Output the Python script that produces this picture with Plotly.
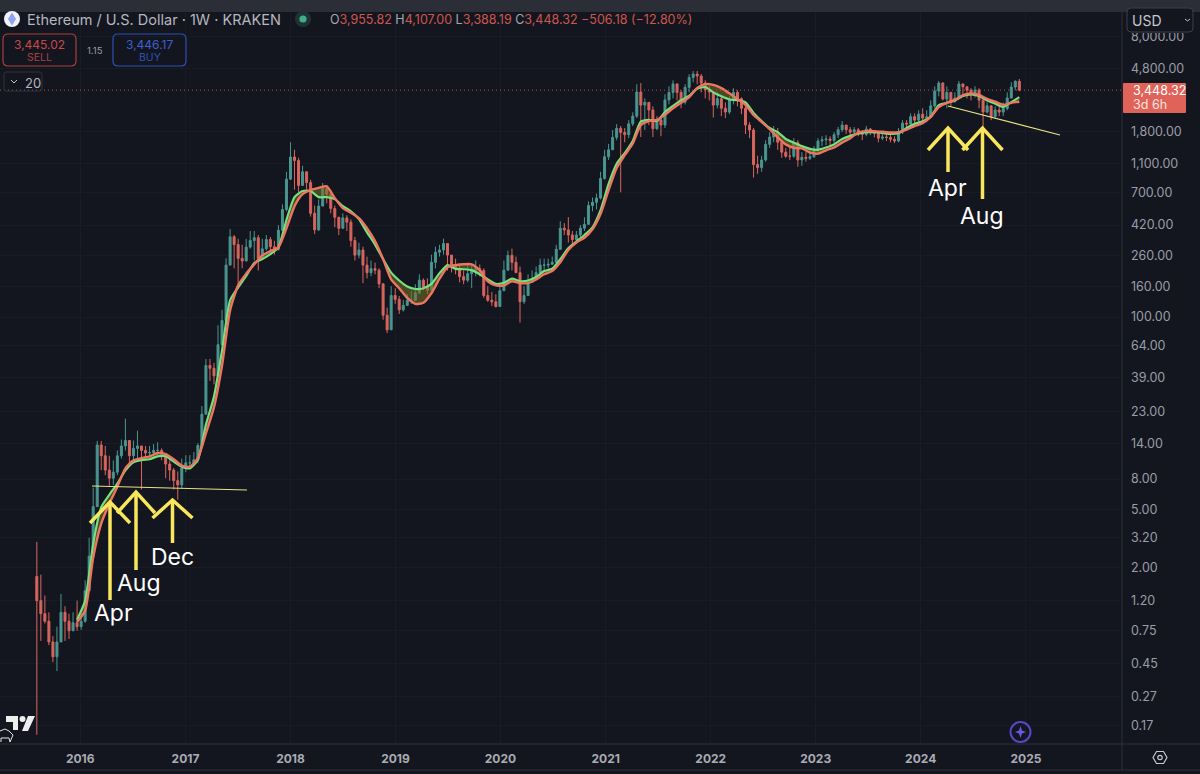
import pandas as pd
import plotly.graph_objects as go

BG = "#14161f"
UP = "#4a9690"
DOWN = "#d8665e"
GREY = "#9a9da6"
YELLOW = "#f8e75c"

start_date = "2015-08-03"
first_open = 1.75

closes = [
    1.2, .98, .87, .63, .5, .63, 1.0, .87, .75, .85,
    .8, .87, 1.4, 2.4, 5.2, 13.6, 11.5, 9.2, 8.1, 8.9,
    11.5, 13.4, 14.6, 11.5, 12.9, 13.4, 12.5, 12, 12.1, 12.5,
    12.5, 11.6, 10.1, 9.2, 7.8, 7.3, 9.5, 10.3, 10.3, 10.8,
    13.5, 22, 47, 45, 40, 65, 95, 225, 350, 310,
    250, 240, 298, 330, 345, 250, 290, 335, 300, 288,
    388, 535, 860, 1215, 1150, 780, 965, 815, 505, 390,
    565, 745, 680, 545, 475, 400, 470, 440, 330, 263,
    285, 225, 200, 213, 208, 168, 103, 82, 140, 132,
    112, 120, 130, 130, 146, 178, 160, 152, 235, 275,
    285, 315, 263, 225, 213, 188, 178, 197, 208, 213,
    207, 140, 130, 127, 118, 151, 208, 262, 235, 200,
    127, 140, 172, 183, 200, 225, 225, 228, 235, 288,
    400, 390, 360, 335, 360, 400, 425, 570, 600, 640,
    870, 1220, 1360, 1650, 1900, 1780, 1720, 2040, 2300, 3350,
    2730, 2850, 2530, 1890, 2170, 2000, 2960, 3330, 3800, 3330,
    2860, 3600, 4200, 4430, 4300, 3850, 3460, 3350, 2730, 3020,
    2600, 2450, 2950, 3330, 3020, 2600, 2000, 1850, 1080, 1030,
    1160, 1480, 1660, 1780, 1530, 1310, 1230, 1230, 1520, 1160,
    1210, 1190, 1220, 1360, 1560, 1590, 1610, 1570, 1720, 1860,
    2000, 1860, 1790, 1860, 1790, 1730, 1880, 1800, 1760, 1630,
    1660, 1650, 1600, 1560, 1790, 2060, 2030, 2280, 2160, 2370,
    2230, 2270, 2700, 3400, 3850, 3000, 3330, 2900, 3050, 3800,
    3630, 3450, 3270, 3450, 2950, 2450, 2700, 2280, 2530, 2450,
    2590, 3050, 3620, 3955.82, 3448.32,
]
highs = [
    3.0, 1.8, 1.3, 1.0, .69, .8, 1.33, 1.1, .98, 1.0,
    1.2, .98, 1.65, 3.2, 7, 14.5, 14.5, 13.4, 11.5, 10.7,
    12.5, 14.8, 20.5, 14.6, 14.6, 17, 13.4, 13.4, 13.4, 13.8,
    14.2, 12.9, 12, 10.7, 9.5, 9, 11, 11.6, 11.6, 12.2,
    14, 25, 52, 52, 49, 88, 112, 250, 395, 360,
    339, 309, 339, 383, 383, 360, 339, 360, 349, 329,
    420, 580, 965, 1530, 1360, 1200, 1060, 965, 853, 570,
    627, 810, 777, 730, 570, 475, 505, 490, 460, 349,
    319, 300, 257, 242, 234, 214, 167, 116, 162, 157,
    139, 131, 143, 150, 167, 195, 183, 183, 265, 300,
    309, 340, 315, 262, 249, 224, 207, 227, 227, 242,
    227, 214, 162, 148, 143, 172, 242, 282, 291, 257,
    220, 162, 195, 207, 220, 249, 249, 249, 257, 309,
    446, 433, 476, 383, 383, 420, 475, 608, 646, 687,
    965, 1360, 1490, 1850, 2030, 1970, 1910, 2160, 2440, 3780,
    3850, 3030, 2760, 2680, 2300, 2230, 3230, 3660, 4020, 3780,
    3440, 3780, 4430, 4650, 4650, 4430, 4020, 3660, 3330, 3330,
    3130, 2850, 3130, 3550, 3440, 3080, 2680, 2090, 1910, 1240,
    1240, 1580, 1790, 1970, 1910, 1580, 1400, 1400, 1630, 1580,
    1310, 1310, 1360, 1440, 1630, 1680, 1710, 1680, 1790, 1940,
    2130, 1970, 1940, 1940, 1910, 1850, 1970, 1910, 1820, 1790,
    1740, 1760, 1710, 1680, 1910, 2160, 2160, 2400, 2400, 2520,
    2600, 2520, 2940, 3660, 3980, 3900, 3660, 3230, 3330, 3980,
    3780, 3660, 3550, 3660, 3550, 3030, 2850, 2680, 2680, 2720,
    2850, 3330, 3900, 4020, 4107,
]
lows = [
    .148, .64, .84, .6, .46, .4, .65, .64, .66, .75,
    .75, .76, .85, 1.4, 2.4, 5.2, 9.2, 8.5, 7.2, 7.3,
    8.5, 11, 12.5, 10.3, 10.3, 10.7, 6.8, 10.7, 11.4, 11.6,
    11.6, 10.7, 8.1, 7.8, 6.8, 5.8, 6.9, 8.9, 9.5, 10,
    10.3, 13.5, 22, 37, 35, 40, 65, 95, 225, 214,
    155, 214, 242, 291, 242, 207, 249, 282, 273, 265,
    282, 390, 520, 850, 730, 705, 780, 730, 480, 365,
    383, 570, 590, 505, 407, 360, 395, 383, 300, 242,
    250, 170, 183, 189, 195, 157, 96, 78, 82, 123,
    105, 109, 119, 123, 135, 143, 152, 143, 152, 214,
    257, 265, 207, 201, 195, 172, 167, 172, 157, 189,
    189, 135, 127, 119, 116, 119, 150, 207, 207, 201,
    92, 123, 143, 172, 178, 201, 207, 214, 227, 234,
    291, 360, 320, 309, 320, 349, 383, 433, 521, 537,
    627, 853, 1160, 1360, 1580, 700, 1530, 1630, 1970, 2230,
    1660, 1850, 2000, 1660, 1850, 1680, 1910, 2760, 3030, 2940,
    2600, 2760, 3330, 3900, 3780, 3330, 3030, 2940, 2250, 2600,
    2300, 2230, 2370, 2760, 2680, 2370, 1740, 1630, 880, 935,
    965, 1130, 1400, 1530, 1360, 1200, 1200, 1160, 1200, 1045,
    1060, 1130, 1160, 1200, 1310, 1440, 1460, 1440, 1490, 1630,
    1790, 1740, 1710, 1740, 1680, 1580, 1680, 1710, 1650, 1530,
    1580, 1560, 1530, 1510, 1530, 1740, 1850, 1910, 2030, 2090,
    2060, 2090, 2230, 2600, 3130, 2940, 2600, 2680, 2830, 3030,
    3230, 3030, 2940, 3080, 2600, 1900, 2400, 2160, 2230, 2300,
    2300, 2520, 3030, 3440, 3388.19,
]

# moving averages, one value every second candle from candle 10
red_ma = [
    .86, 1.03, 2.35, 4.0, 5.45, 7.1, 9.45, 10.7, 11.1, 11.4,
    12, 11.8, 10.9, 9.85, 9.7, 11.1, 16.3, 24.5, 47, 111,
    164, 197, 228, 262, 280, 297, 400, 565, 680, 725,
    750, 770, 640, 548, 510, 468, 400, 327, 247, 180,
    157, 135, 123, 125, 145, 182, 218, 225, 228, 228,
    208, 175, 164, 164, 175, 170, 170, 180, 195, 205,
    235, 285, 320, 345, 394, 500, 725, 1025, 1250, 1500,
    2000, 2130, 2170, 2350, 2600, 2830, 3090, 3570, 3800, 3740,
    3560, 3280, 3000, 2740, 2340, 2100, 1880, 1650, 1480, 1400,
    1390, 1300, 1280, 1350, 1410, 1520, 1630, 1780, 1820, 1820,
    1800, 1780, 1790, 1860, 1970, 2060, 2270, 2650, 2830, 2960,
    3190, 3280, 3200, 3010, 2880, 2740, 2830, 2880,
]
green_ma = [
    .89, 1.2, 2.92, 5.15, 6.25, 7.45, 9.15, 10.4, 10.75, 10.9,
    11.4, 11.4, 10.5, 9.7, 9.45, 10.8, 18.7, 29, 59.5, 130,
    159, 190, 232, 247, 267, 297, 455, 650, 715, 715,
    650, 650, 630, 565, 520, 461, 375, 310, 247, 200,
    177, 161, 155, 157, 168, 198, 225, 212, 211, 208,
    195, 180, 168, 171, 182, 175, 177, 187, 205, 213,
    247, 293, 325, 360, 405, 530, 800, 1095, 1290, 1560,
    2110, 2170, 2130, 2450, 2700, 2950, 3150, 3520, 3620, 3330,
    3130, 2980, 2950, 2850, 2420, 2130, 1910, 1790, 1610, 1520,
    1440, 1380, 1360, 1410, 1480, 1610, 1690, 1750, 1790, 1790,
    1770, 1740, 1760, 1910, 2040, 2120, 2280, 2730, 2830, 2930,
    3150, 3230, 3150, 2930, 2790, 2650, 2860, 3090,
]

price_ticks = [8000, 4800, 1800, 1100, 700, 420, 260, 160, 100, 64, 39, 23, 14,
               8, 5, 3.2, 2, 1.2, .75, .45, .27, .17]
year_ticks = list(range(2016, 2026))

opens = [first_open] + closes[:-1]
dates = pd.date_range(start_date, periods=len(closes), freq="14D")
ma_dates = dates[10::2]


# figure pixels to paper coordinates of the plot area
def px(x):
    return x / 1122


def py(y):
    return (744 - y) / 732


def path_of(points, close=False):
    s = "M" + " L".join(f"{px(x):.5f},{py(y):.5f}" for x, y in points)
    return s + (" Z" if close else "")


def line(points, color, width, fill=None, close=False):
    return dict(type="path", xref="paper", yref="paper", path=path_of(points, close),
                line=dict(color=color, width=width), fillcolor=fill, layer="above")


def box(x0, y0, x1, y1, color, width=1, fill=None, r=3):
    p = (f"M{px(x0 + r)},{py(y0)} L{px(x1 - r)},{py(y0)} Q{px(x1)},{py(y0)} {px(x1)},{py(y0 + r)} "
         f"L{px(x1)},{py(y1 - r)} Q{px(x1)},{py(y1)} {px(x1 - r)},{py(y1)} "
         f"L{px(x0 + r)},{py(y1)} Q{px(x0)},{py(y1)} {px(x0)},{py(y1 - r)} "
         f"L{px(x0)},{py(y0 + r)} Q{px(x0)},{py(y0)} {px(x0 + r)},{py(y0)} Z")
    return dict(type="path", xref="paper", yref="paper", path=p, layer="above",
                line=dict(color=color, width=width), fillcolor=fill)


def circle(cx, cy, r, color, width=0, fill=None):
    return dict(type="circle", xref="paper", yref="paper", layer="above",
                x0=px(cx - r), x1=px(cx + r), y0=py(cy + r), y1=py(cy - r),
                line=dict(color=color, width=width), fillcolor=fill)


def label(x, y, text, size=12, color=GREY, anchor="left", family="Inter"):
    return dict(xref="paper", yref="paper", x=px(x), y=py(y), text=text, showarrow=False,
                xanchor=anchor, yanchor="middle", font=dict(family=family, size=size, color=color))


def arrow(cx, bottom, top, dx, head):
    return [line([(cx, bottom), (cx, top)], YELLOW, 3.5),
            line([(cx - dx, top + head), (cx, top), (cx + dx, top + head)], YELLOW, 3.5)]


fig = go.Figure()
fig.add_trace(go.Candlestick(
    x=dates, open=opens, high=highs, low=lows, close=closes,
    increasing=dict(line=dict(color=UP, width=1), fillcolor=UP),
    decreasing=dict(line=dict(color=DOWN, width=1), fillcolor=DOWN),
    whiskerwidth=0, hoverinfo="skip", showlegend=False,
))
fig.add_trace(go.Scatter(x=ma_dates, y=green_ma, mode="lines", showlegend=False, hoverinfo="skip",
                         line=dict(color="#74e27e", width=2.2, shape="spline", smoothing=0.6)))
fig.add_trace(go.Scatter(x=ma_dates, y=red_ma, mode="lines", showlegend=False, hoverinfo="skip",
                         fill="tonexty", fillcolor="rgba(120,115,40,0.55)",
                         line=dict(color="#ee7660", width=2.4, shape="spline", smoothing=0.6)))

shapes = [
    # frame
    dict(type="rect", xref="paper", yref="paper", x0=px(0), x1=px(1200), y0=py(12), y1=py(0),
         fillcolor="#2b2d37", line_width=0, layer="above"),
    dict(type="rect", xref="paper", yref="paper", x0=px(1123), x1=px(1200), y0=py(33), y1=py(12),
         fillcolor=BG, line_width=0, layer="above"),
    line([(1122, 12), (1122, 770)], "#2f313b", 1),
    line([(0, 744), (1200, 744)], "#2f313b", 1),
    line([(0, 770), (1200, 770)], "#2f313b", 1),
    # last price line
    dict(type="line", xref="paper", yref="y", x0=0, x1=1, y0=closes[-1], y1=closes[-1],
         line=dict(color="#b5524d", width=1, dash="1px,3px"), layer="above"),
    box(1123, 83, 1186, 113, "#e0635a", 0, "#e0635a", 1),
    # trend lines
    line([(92, 486), (247, 490)], "#e9e288", 1.2),
    line([(948, 106), (1060, 135)], "#e9e288", 1.2),
    # header
    circle(12, 19, 8, "#ffffff", 0, "#f2f3f7"),
    line([(12, 12.5), (16, 19), (12, 25.5), (8, 19)], "#8fa4ee", 0, "#8fa4ee", True),
    circle(303, 19, 8, "#1f3236", 0, "#1f3236"),
    circle(303, 19, 3.6, "#41ae8a", 0, "#41ae8a"),
    box(3, 34, 76, 66, "#a8403f", 1.2, None, 5),
    box(113, 34, 186, 66, "#2f4fb8", 1.2, None, 5),
    box(4, 72, 42, 91, "#30323c", 1, None, 2),
    line([(11, 80), (14, 83), (17, 80)], "#c5c7cf", 1),
    # currency selector
    box(1127, 8, 1193, 32, "#3b3e49", 1, BG, 4),
    line([(1185, 19), (1187.5, 21), (1190, 19)], "#c5c7cf", 1),
    # tradingview logo
    line([(6, 716), (18, 716), (18, 730), (13, 730), (13, 722), (6, 722)], "#eeeeee", 0, "#eeeeee", True),
    circle(22.5, 719, 3, "#eeeeee", 0, "#eeeeee"),
    line([(28, 716), (35, 716), (28, 731), (22, 731)], "#eeeeee", 0, "#eeeeee", True),
    line([(0, 731), (5, 729), (9, 731), (13, 735), (10, 742), (9, 738), (1, 738), (1, 742)], "#e6e6e6", 1),
    # bottom right icons
    circle(1020.5, 732, 10, "#5b46c8", 2),
    line([(1020.5, 726), (1022, 730.5), (1026, 732), (1022, 733.5), (1020.5, 738), (1019, 733.5),
          (1015, 732), (1019, 730.5)], "#6b57e6", 0, "#6b57e6", True),
    line([(1153, 757.5), (1156.5, 751.5), (1163.5, 751.5), (1167, 757.5), (1163.5, 763.5), (1156.5, 763.5)],
         "#c5c7cf", 1.2, None, True),
    circle(1160, 757.5, 2.2, "#c5c7cf", 1.2),
]
# yellow arrows drawn on the chart
shapes += arrow(110, 600, 502, 20, 21)
shapes += arrow(136, 570, 492, 19, 21)
shapes += arrow(172.5, 543, 500, 20, 18)
shapes += arrow(948, 172, 128, 20, 22)
shapes += arrow(982.5, 199, 128, 20, 22)

RED = "#cf5650"
ohlc = (f"O<span style='color:{RED}'>3,955.82</span> H<span style='color:{RED}'>4,107.00</span> "
        f"L<span style='color:{RED}'>3,388.19</span> C<span style='color:{RED}'>3,448.32</span> "
        f"<span style='color:{RED}'>−506.18 (−12.80%)</span>")
annotations = [
    label(25, 19.5, "Ethereum / U.S. Dollar · 1W · KRAKEN", 14.5, "#b4b7bf"),
    label(328, 19.5, ohlc, 12.5, "#a5a8b0"),
    label(39.5, 45, "3,445.02", 12, "#c9474a", "center"),
    label(39.5, 58, "SELL", 10.5, "#a8403f", "center"),
    label(95, 50.5, "1.15", 9.5, GREY, "center"),
    label(149.5, 45, "3,446.17", 12, "#3c5fd0", "center"),
    label(149.5, 58, "BUY", 10.5, "#2f4fb8", "center"),
    label(23, 82.5, "20", 13, "#b4b7bf"),
    label(1130, 20, "USD", 14, "#c5c7cf"),
    label(1131, 90.5, "3,448.32", 12.5, "#ffffff"),
    label(1131, 104, "3d 6h", 12.5, "#ffe3df"),
    label(113, 613, "Apr", 23, "#ffffff", "center"),
    label(139, 583, "Aug", 23, "#ffffff", "center"),
    label(173, 557, "Dec", 23, "#ffffff", "center"),
    label(947, 188, "Apr", 23, "#ffffff", "center"),
    label(982, 216, "Aug", 23, "#ffffff", "center"),
]

fig.update_layout(
    width=1200, height=774, margin=dict(l=0, r=78, t=12, b=30, autoexpand=False),
    paper_bgcolor=BG, plot_bgcolor=BG, showlegend=False, hovermode=False,
    font=dict(family="Inter", color=GREY),
    shapes=shapes, annotations=annotations,
)
fig.update_xaxes(
    type="date", range=["2015-03-28", "2025-12-01"], rangeslider_visible=False,
    tickvals=[f"{y}-01-01" for y in year_ticks], ticktext=[f"<b>{y}</b>" for y in year_ticks],
    tickfont=dict(family="Inter", size=12, color="#a9acb4"), ticks="", ticklabelstandoff=6,
    showgrid=True, gridcolor="#191b25", gridwidth=1, zeroline=False, showline=False,
)
fig.update_yaxes(
    type="log", side="right", range=[-0.892, 4.067],
    tickvals=price_ticks, ticktext=[f"{p:,.2f}" for p in price_ticks],
    tickfont=dict(family="Inter", size=12.5, color=GREY), ticks="", ticklabelstandoff=8,
    showgrid=True, gridcolor="#191b25", gridwidth=1, zeroline=False, showline=False,
)

# the page margin would push the 1200 px figure out of the window
fig.write_html("out.html", config={"displayModeBar": False},
               post_script="document.body.style.margin='0';document.body.style.overflow='hidden';")
